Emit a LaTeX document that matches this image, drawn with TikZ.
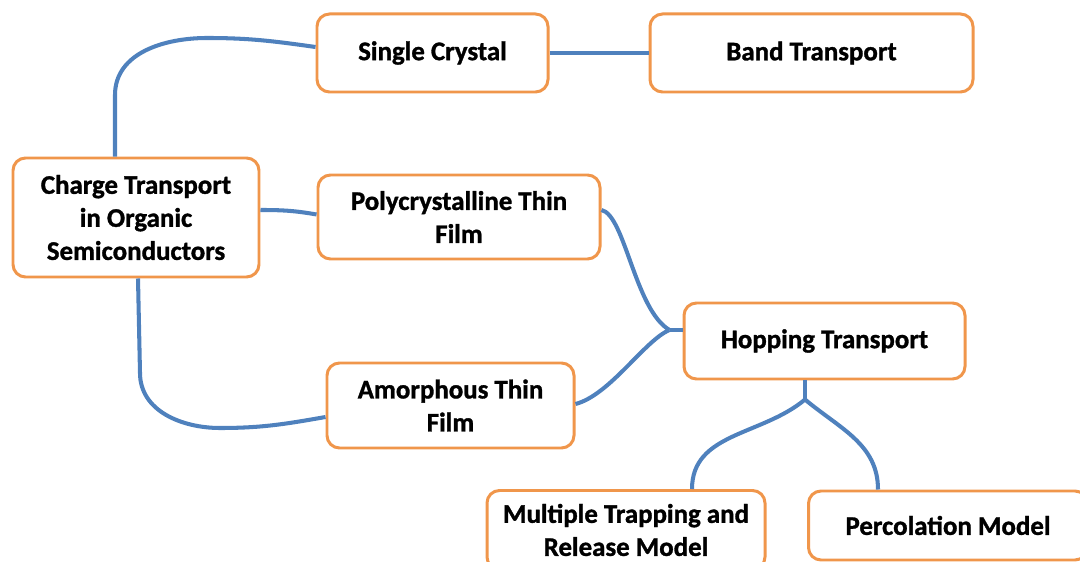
\documentclass[tikz,border=0pt]{standalone}
\usepackage{fontspec}
\setmainfont{Carlito}[BoldFeatures={FakeBold=1.2}]
\usetikzlibrary{positioning, arrows.meta}
\definecolor{boxorange}{RGB}{240,150,75}
\definecolor{linkblue}{RGB}{79,129,189}

\begin{document}
\begin{tikzpicture}[font=\bfseries\fontsize{15.3}{18.8}\selectfont,
    every node/.style={align=center},
    box/.style={rectangle, draw=boxorange, line width=1.7pt, rounded corners=0.25cm, fill=white, inner sep=2pt},
    link/.style={draw=linkblue, line width=2.3pt},
]
\useasboundingbox (0,0) rectangle (21.6,-11.24);

\node[box, minimum width=4.92cm, minimum height=2.38cm] (charge) at (2.72,-4.35) {Charge Transport\\in Organic\\Semiconductors};

\node[box, minimum width=4.62cm, minimum height=1.56cm] (single) at (8.65,-1.06) {Single Crystal};
\node[box, minimum width=6.46cm, minimum height=1.56cm] (band) at (16.23,-1.06) {Band Transport};

\node[box, minimum width=5.64cm, minimum height=1.68cm] (poly) at (9.18,-4.34) {Polycrystalline Thin\\Film};
\node[box, minimum width=4.94cm, minimum height=1.70cm] (amorph) at (9.01,-8.11) {Amorphous Thin\\Film};

\node[box, minimum width=5.62cm, minimum height=1.52cm] (hopping) at (16.49,-6.82) {Hopping Transport};

\node[box, minimum width=5.56cm, minimum height=1.58cm] (multiple) at (12.52,-10.6) {Multiple Trapping and\\Release Model};
\node[box, minimum width=5.58cm, minimum height=1.38cm] (perc) at (18.96,-10.51) {Percolation Model};

% joins of the branches
\coordinate (hjoin) at ([xshift=-0.26cm,yshift=0.22cm]hopping.west);
\coordinate (hfork) at ([xshift=-0.39cm,yshift=-0.38cm]hopping.south);

\draw[link] ([xshift=-0.42cm]charge.north) -- (2.3,-1.9)
  to[out=90,in=180] (4.14,-0.76) to[out=0,in=172] ([yshift=0.12cm]single.west);
\draw[link] (single.east) -- (band.west);
\draw[link] ([yshift=0.15cm]charge.east) to[out=0,in=170] ([yshift=0.05cm]poly.west);
\draw[link] ([xshift=0.04cm]charge.south) -- (2.8,-7.46)
  to[out=-90,in=180] (4.4,-8.56) to[out=0,in=190] ([yshift=-0.23cm]amorph.west);

\draw[link] ([yshift=0.14cm]poly.east) .. controls (12.5,-4.3) and (12.7,-6.2) .. (hjoin);
\draw[link] ([yshift=0.03cm]amorph.east) .. controls (12.2,-7.9) and (12.9,-6.8) .. (hjoin);
\draw[link] (hjoin) -- ([yshift=0.22cm]hopping.west);

\draw[link] ([xshift=-0.39cm]hopping.south) -- (hfork);
\draw[link] (hfork) to[out=-140,in=90] ([xshift=1.32cm]multiple.north);
\draw[link] (hfork) to[out=-40,in=90] ([xshift=-1.4cm]perc.north);

\end{tikzpicture}
\end{document}
